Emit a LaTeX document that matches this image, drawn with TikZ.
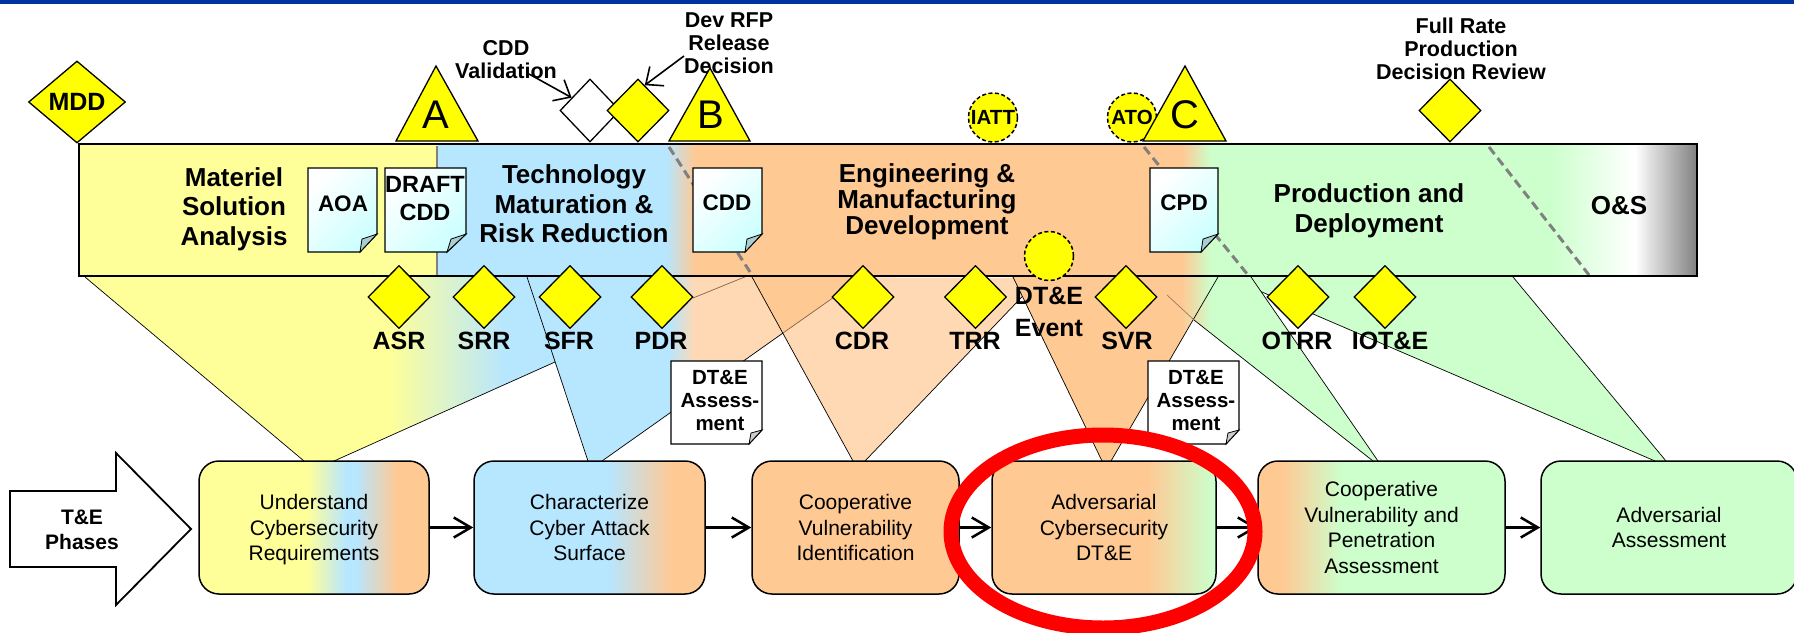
\documentclass[tikz,border=0pt]{standalone}
\usepackage{fontspec}
\setmainfont{Liberation Sans}
\usetikzlibrary{shapes.geometric,arrows.meta}

\definecolor{ptyellow}{HTML}{FFFF99}
\definecolor{ptgate}{RGB}{255,255,0}
\definecolor{ptblue}{HTML}{B7E6FF}
\definecolor{ptorange}{HTML}{FFC994}
\definecolor{ptpeach}{HTML}{FFD9B3}
\definecolor{ptgreen}{HTML}{CCFFCC}
\definecolor{ptband}{HTML}{0033A0}
\definecolor{ptdoc}{HTML}{CCFFFF}
\definecolor{ptfold}{HTML}{A9CDD0}
\definecolor{ptdash}{RGB}{128,128,128}

\pgfdeclarehorizontalshading{barshade}{100bp}{color(0bp)=(ptyellow); color(36.06bp)=(ptyellow); color(36.07bp)=(ptblue); color(43.14bp)=(ptblue); color(44.04bp)=(ptorange); color(59.08bp)=(ptorange); color(59.98bp)=(ptgreen); color(70.45bp)=(ptgreen); color(73.08bp)=(white); color(75bp)=(ptdash); color(100bp)=(ptdash)}
\pgfdeclarehorizontalshading{reqfunnel}{100bp}{color(0bp)=(ptyellow); color(48bp)=(ptyellow); color(56.7bp)=(ptblue); color(68.8bp)=(ptblue); color(71.1bp)=(ptpeach); color(100bp)=(ptpeach)}
\pgfdeclarehorizontalshading{surffunnel}{100bp}{color(0bp)=(ptblue); color(46.07bp)=(ptblue); color(49.9bp)=(ptpeach); color(100bp)=(ptpeach)}
\pgfdeclarehorizontalshading{dtefunnel}{100bp}{color(0bp)=(ptorange); color(66.2bp)=(ptorange); color(73.3bp)=(ptgreen); color(100bp)=(ptgreen)}
\pgfdeclarehorizontalshading{penfunnel}{100bp}{color(0bp)=(ptorange); color(34bp)=(ptorange); color(40.1bp)=(ptgreen); color(100bp)=(ptgreen)}
\pgfdeclarehorizontalshading{reqbox}{100bp}{color(0bp)=(ptyellow); color(48.5bp)=(ptyellow); color(57bp)=(ptblue); color(59bp)=(ptblue); color(68bp)=(ptorange); color(100bp)=(ptorange)}
\pgfdeclarehorizontalshading{surfbox}{100bp}{color(0bp)=(ptblue); color(54bp)=(ptblue); color(67.9bp)=(ptorange); color(100bp)=(ptorange)}
\pgfdeclarehorizontalshading{dtebox}{100bp}{color(0bp)=(ptorange); color(59.8bp)=(ptorange); color(74.3bp)=(ptgreen); color(100bp)=(ptgreen)}
\pgfdeclarehorizontalshading{penbox}{100bp}{color(0bp)=(ptorange); color(29.9bp)=(ptorange); color(42bp)=(ptgreen); color(100bp)=(ptgreen)}

\tikzset{
    gate/.style={diamond, draw, line width=1.3, fill=ptgate, minimum width=62, minimum height=63, inner sep=0},
    dashgate/.style={ellipse, draw, line width=1.5, dash pattern=on 4 off 2.5, fill=ptgate, minimum width=49, minimum height=49, inner sep=0},
    gatetext/.style={font=\fontsize{20.5}{24}\selectfont\bfseries, inner sep=0},
    tri/.style={draw, line width=1.3, fill=ptgate},
    boldtext/.style={font=\fontsize{25}{29}\selectfont\bfseries, align=center, inner sep=0},
    phasetext/.style={font=\fontsize{26}{29.5}\selectfont\bfseries, align=center, inner sep=0},
    smalltext/.style={font=\fontsize{21.5}{23}\selectfont\bfseries, align=center, inner sep=0},
    docshade/.style={draw, line width=1.2, shading=axis, top color=white, middle color=white, bottom color=ptdoc, shading angle=45},
    docfold/.style={draw, line width=0.8, fill=#1},
    notepage/.style={draw, line width=1.2, fill=white},
    phasebox/.style={draw, line width=1.5, rounded corners=20, inner sep=0, align=center, font=\fontsize{21}{25.5}\selectfont},
    funnel/.style={draw, line width=0.7},
    flowline/.style={line width=2.5, -{Straight Barb[length=17,width=20,line width=2.5]}},
    noteline/.style={line width=1.6, -{Straight Barb[length=14,width=24,line width=1.6]}},
    phaseline/.style={ptdash, line width=3, dash pattern=on 9 off 5}
}

\begin{document}
\begin{tikzpicture}[x=1pt,y=-1pt]
            \useasboundingbox (0,0) rectangle (1794,632);

            % Band at the top
            \fill[ptband] (0,0) rectangle (1794,3.5);

            % Funnels from the bar down to the phases
            \coordinate (req0) at (85,277);
            \coordinate (req1) at (304,461);
            \coordinate (req2) at (334,461);
            \coordinate (req3) at (747,276);
            \coordinate (surf0) at (527,277);
            \coordinate (surf1) at (588,461);
            \coordinate (surf2) at (602,461);
            \coordinate (surf3) at (864,276);
            \coordinate (surf4) at (783,333);
            \coordinate (vuln0) at (752,277);
            \coordinate (vuln1) at (853,461);
            \coordinate (vuln2) at (865,461);
            \coordinate (vuln3) at (1040,278);
            \coordinate (dte0) at (1013,277);
            \coordinate (dte1) at (1102,461);
            \coordinate (dte2) at (1111,461);
            \coordinate (dte3) at (1218,277);
            \coordinate (pen0) at (1139,277);
            \coordinate (pen1) at (1373,461);
            \coordinate (pen2) at (1378,461);
            \coordinate (pen3) at (1251,277);
            \coordinate (pen4) at (1194,320);
            \coordinate (adv0) at (1227,277);
            \coordinate (adv1) at (1655,461);
            \coordinate (adv2) at (1666,461);
            \coordinate (adv3) at (1513,277);

            \shade[shading=reqfunnel] (req0) -- (req1) -- (req2) -- (req3) -- cycle;
            \draw[funnel] (req0) -- (req1);
            \draw[funnel] (req2) -- (req3);
            \shade[shading=surffunnel] (surf0) -- (surf1) -- (surf2) -- (surf3) -- cycle;
            \fill[ptpeach] (vuln0) -- (vuln1) -- (vuln2) -- (vuln3) -- cycle;
            \fill[ptorange] (vuln0) -- (surf4) -- (surf3) -- cycle;
            \draw[funnel] (surf0) -- (surf1);
            \draw[funnel] (surf2) -- (surf4);
            \draw[funnel, black!50!ptorange] (surf4) -- (surf3);
            \draw[funnel, black!50!ptorange] (693,298) -- (req3);
            \draw[funnel] (vuln0) -- (vuln1);
            \draw[funnel] (vuln2) -- (vuln3);

            \fill[ptgreen] (adv0) -- (adv1) -- (adv2) -- (adv3) -- cycle;
            \draw[funnel] (adv0) -- (adv1);
            \draw[funnel] (adv2) -- (adv3);
            \shade[shading=penfunnel] (pen0) -- (pen1) -- (pen2) -- (pen3) -- cycle;
            \draw[funnel] (pen2) -- (pen3);
            \draw[funnel] (pen4) -- (pen1);
            \shade[shading=dtefunnel] (dte0) -- (dte1) -- (dte2) -- (dte3) -- cycle;
            \draw[funnel] (dte0) -- (dte1);
            \draw[funnel] (dte2) -- (dte3);
            \draw[funnel, black!40!ptorange] (pen4) -- (1167,295);

            % The acquisition bar
            \shade[shading=barshade] (79,144) rectangle (1697,276);
            \draw[ptdash, line width=2.5] (437,146) -- (437,275);
            \draw[phaseline] (669,147) -- (752,275);
            \draw[phaseline] (1144,147) -- (1248,275);
            \draw[phaseline] (1489,147) -- (1589,275);
            \draw[line width=2.5] (79,144) rectangle (1697,276);

            \node[phasetext] (matsol) at (234,209) {Materiel\\Solution\\Analysis};
            \node[phasetext] (techmat) at (574,204) {Technology\\Maturation \&\\Risk Reduction};
            \node[phasetext, font=\fontsize{26}{26}\selectfont\bfseries] (emd) at (927,202) {Engineering \&\\Manufacturing\\Development};
            \node[phasetext] (prod) at (1369,211) {Production and\\Deployment};
            \node[phasetext] (ops) at (1619,206) {O\&S};

            % Documents in the bar
            \shadedraw[docshade] (308,168) -- (377,168) -- (377,234) -- (360,252) -- (308,252) -- cycle;
            \filldraw[docfold=ptfold] (377,234) -- (362,239) -- (360,252) -- cycle;
            \node[smalltext, font=\fontsize{22.5}{24}\selectfont\bfseries] (aoadoc) at (343,204) {AOA};

            \shadedraw[docshade] (385,168) -- (466,168) -- (466,234) -- (447,252) -- (385,252) -- cycle;
            \filldraw[docfold=ptfold] (466,234) -- (451,239) -- (447,252) -- cycle;
            \node[smalltext, font=\fontsize{23.5}{28}\selectfont\bfseries] (draftdoc) at (425,199) {DRAFT\\CDD};

            \shadedraw[docshade] (693,168) -- (762,168) -- (762,234) -- (745,252) -- (693,252) -- cycle;
            \filldraw[docfold=ptfold] (762,234) -- (747,239) -- (745,252) -- cycle;
            \node[smalltext, font=\fontsize{22.5}{24}\selectfont\bfseries] (cdddoc) at (727,203) {CDD};

            \shadedraw[docshade] (1150,168) -- (1218,168) -- (1218,234) -- (1201,252) -- (1150,252) -- cycle;
            \filldraw[docfold=ptfold] (1218,234) -- (1203,239) -- (1201,252) -- cycle;
            \node[smalltext, font=\fontsize{22.5}{24}\selectfont\bfseries] (cpddoc) at (1184,203) {CPD};

            % Decisions over the bar
            \node[smalltext] (cddlabel) at (506,60) {CDD\\Validation};
            \node[smalltext] (rfplabel) at (729,43) {Dev RFP\\Release\\Decision};
            \node[smalltext] (frplabel) at (1461,48.5) {Full Rate\\Production\\Decision Review};

            \node[gate, minimum width=97, minimum height=82, font=\fontsize{25}{29}\selectfont\bfseries] (mdd) at (77,102) {MDD};
            \node[gate, fill=white, minimum width=60] (cddgate) at (590,110.5) {};
            \node[gate] (rfpgate) at (638,110.5) {};
            \node[gate] (frpgate) at (1450,110.5) {};

            \coordinate (cddfoot) at (529,74);
            \coordinate (rfpfoot) at (684,56);
            \draw[noteline] (cddfoot) -- (cddgate.145);
            \draw[noteline] (rfpfoot) -- (rfpgate.75);

            \filldraw[tri] (436,66) -- (478,141) -- (396,141) -- cycle;
            \node[font=\fontsize{40}{44}\selectfont, inner sep=0] (msa) at (436,115) {A};
            \filldraw[tri] (710,68) -- (750,141) -- (669,141) -- cycle;
            \node[font=\fontsize{40}{44}\selectfont, inner sep=0] (msb) at (711,115) {B};
            \node[dashgate, label={[gatetext, name=iattlabel]center:IATT}] (iatt) at (993,117.5) {};
            \node[dashgate, label={[gatetext, name=atolabel]center:ATO}] (ato) at (1132,117.5) {};
            \filldraw[tri] (1185,66) -- (1226,141) -- (1143,141) -- cycle;
            \node[font=\fontsize{40}{44}\selectfont, inner sep=0] (msc) at (1185,115) {C};

            % Reviews under the bar
            \node[gate] (asr) at (399,297) {};
            \node[gate] (srr) at (484,297) {};
            \node[gate] (sfr) at (570,297) {};
            \node[gate] (pdr) at (662,297) {};
            \node[gate] (cdr) at (863,297) {};
            \node[gate] (trr) at (975.5,297) {};
            \node[gate] (svr) at (1126,297) {};
            \node[gate] (otrr) at (1298,297) {};
            \node[gate] (iote) at (1385,297) {};
            \node[dashgate] (dteevent) at (1049,256) {};

            \node[boldtext] (asrlabel) at (399,341) {ASR};
            \node[boldtext] (srrlabel) at (484,341) {SRR};
            \node[boldtext] (sfrlabel) at (569,341) {SFR};
            \node[boldtext] (pdrlabel) at (661,341) {PDR};
            \node[boldtext] (cdrlabel) at (862,341) {CDR};
            \node[boldtext] (trrlabel) at (975,341) {TRR};
            \node[boldtext] (svrlabel) at (1127,341) {SVR};
            \node[boldtext] (otrrlabel) at (1297,341) {OTRR};
            \node[boldtext] (iotelabel) at (1390,341) {IOT\&E};
            \node[boldtext, font=\fontsize{25}{32}\selectfont\bfseries] (dtelabel) at (1049,312) {DT\&E\\Event};

            % Assessment notes
            \filldraw[notepage] (671,361) -- (762,361) -- (762,430) -- (749,444) -- (671,444) -- cycle;
            \filldraw[docfold=black!20] (762,430) -- (751,433) -- (749,444) -- cycle;
            \node[smalltext, font=\fontsize{20.5}{23}\selectfont\bfseries] (assessa) at (720,401) {DT\&E\\Assess-\\ment};

            \filldraw[notepage] (1148,361) -- (1239,361) -- (1239,430) -- (1226,444) -- (1148,444) -- cycle;
            \filldraw[docfold=black!20] (1239,430) -- (1228,433) -- (1226,444) -- cycle;
            \node[smalltext, font=\fontsize{20.5}{23}\selectfont\bfseries] (assessb) at (1196,401) {DT\&E\\Assess-\\ment};

            % The phases
            \draw[line width=1.8, fill=white] (10,491) -- (116,491) -- (116,453) -- (191,529) -- (116,605) -- (116,567) -- (10,567) -- cycle;
            \node[smalltext, font=\fontsize{21}{25}\selectfont\bfseries] (tephases) at (82,530) {T\&E\\Phases};

            \node[phasebox, shade, shading=reqbox, text depth=0pt, minimum width=230, minimum height=133] (understand) at (314,527.5) {Understand\\Cybersecurity\\Requirements};
            \node[phasebox, shade, shading=surfbox, minimum width=231, minimum height=133] (characterize) at (589.5,527.5) {Characterize\\Cyber Attack\\Surface};
            \node[phasebox, fill=ptorange, minimum width=207, minimum height=133] (covuln) at (855.5,527.5) {Cooperative\\Vulnerability\\Identification};
            \node[phasebox, shade, shading=dtebox, minimum width=224, minimum height=133] (advdte) at (1104,527.5) {Adversarial\\Cybersecurity\\DT\&E};
            \node[phasebox, shade, shading=penbox, minimum width=247, minimum height=133] (copen) at (1381.5,527.5) {Cooperative\\Vulnerability and\\Penetration\\Assessment};
            \node[phasebox, fill=ptgreen, minimum width=256, minimum height=133] (advass) at (1669,527.5) {Adversarial\\Assessment};

            \draw[flowline] (understand) -- (characterize);
            \draw[flowline] (characterize) -- (covuln);
            \draw[flowline] (covuln) -- (advdte);
            \draw[flowline] (advdte) -- (copen);
            \draw[flowline] (copen) -- (advass);

            % Red ring
            \draw[red, line width=15] (1103,531.5) ellipse (152 and 96.5);
        \end{tikzpicture}
\end{document}
